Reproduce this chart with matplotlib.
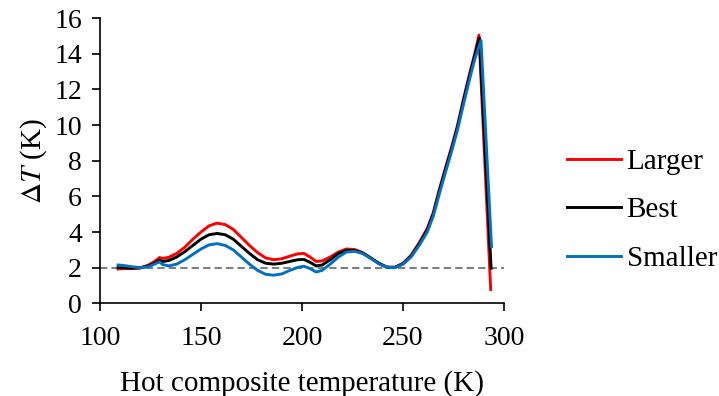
import numpy as np
import matplotlib.pyplot as plt

plt.rcParams['font.family'] = ['Liberation Serif', 'DejaVu Serif']
plt.rcParams['mathtext.fontset'] = 'stix'

# hot composite temperature (K) shared by the three cases
temp = [109, 112, 116, 120, 124, 127, 129.5, 131, 134, 138, 142, 146, 150,
        154, 158, 162, 166, 170, 174, 178, 182, 186, 190, 194, 198, 201,
        204, 207, 210, 214, 218, 222, 226, 230, 234, 238, 242, 246, 250,
        254, 258, 262, 265, 268, 271, 274, 277, 280, 283, 285.5]

dt_larger = [1.93, 1.95, 1.95, 1.98, 2.15, 2.35, 2.57, 2.52, 2.58, 2.8, 3.15,
             3.6, 4.0, 4.35, 4.5, 4.42, 4.15, 3.7, 3.25, 2.85, 2.55, 2.45,
             2.5, 2.65, 2.78, 2.8, 2.6, 2.35, 2.38, 2.6, 2.88, 3.05, 3.02,
             2.85, 2.55, 2.25, 2.03, 2.02, 2.25, 2.7, 3.4, 4.2, 5.1, 6.4,
             7.6, 8.75, 10.0, 11.5, 12.9, 14.0]
dt_best = [2.0, 2.0, 1.98, 2.0, 2.1, 2.25, 2.42, 2.35, 2.4, 2.6, 2.9, 3.25,
           3.6, 3.85, 3.92, 3.85, 3.6, 3.2, 2.8, 2.45, 2.25, 2.2, 2.25, 2.35,
           2.45, 2.46, 2.3, 2.1, 2.15, 2.45, 2.8, 2.97, 2.97, 2.82, 2.55,
           2.25, 2.03, 2.02, 2.22, 2.65, 3.33, 4.12, 5.02, 6.3, 7.5, 8.65,
           9.9, 11.4, 12.8, 13.9]
dt_smaller = [2.15, 2.12, 2.05, 2.0, 2.05, 2.2, 2.33, 2.18, 2.1, 2.2, 2.45,
              2.75, 3.05, 3.28, 3.35, 3.25, 3.0, 2.6, 2.2, 1.85, 1.63, 1.58,
              1.65, 1.85, 2.02, 2.08, 1.95, 1.76, 1.85, 2.2, 2.6, 2.88, 2.92,
              2.8, 2.52, 2.22, 2.02, 2.0, 2.2, 2.6, 3.25, 4.0, 4.9, 6.15,
              7.35, 8.5, 9.75, 11.2, 12.6, 13.7]

# peak and end of each curve
tail_t = {"Larger": [287.6, 293.4], "Best": [287.8, 293.6], "Smaller": [288.6, 293.8]}
tail_dt = {"Larger": [15.06, 0.78], "Best": [14.9, 1.97], "Smaller": [14.75, 3.18]}

min_dt = 2.0

colours = {"Larger": "#ff0000", "Best": "#000000", "Smaller": "#0070c0"}
series = [("Larger", dt_larger), ("Best", dt_best), ("Smaller", dt_smaller)]

fig = plt.figure(figsize=(7.19, 3.96), dpi=100)
ax = fig.add_axes([0.139, 0.234, 0.562, 0.72])

ax.axhline(min_dt, color="#808080", linestyle=(0, (3.5, 2.0)), linewidth=1.5, zorder=1)

for name, vals in series:
    ax.plot(temp + tail_t[name], vals + tail_dt[name],
            color=colours[name], linewidth=2.1, label=name, zorder=2)

ax.set_xlim(100, 300)
ax.set_ylim(0, 16)
ax.set_xticks(np.arange(100, 301, 50))
ax.set_yticks(np.arange(0, 17, 2))

for side in ["top", "right"]:
    ax.spines[side].set_visible(False)
for side in ["left", "bottom"]:
    ax.spines[side].set_linewidth(1.2)
ax.tick_params(direction="out", length=6, width=1.2, labelsize=20)
ax.tick_params(axis="x", pad=10)
ax.tick_params(axis="y", pad=7)

ax.set_xlabel("Hot composite temperature (K)", fontsize=21, labelpad=14)
ax.set_ylabel(r"$\Delta T$ (K)", fontsize=21, labelpad=4)

fig.legend(loc="center left", bbox_to_anchor=(0.768, 0.469), frameon=False,
           fontsize=21, handlelength=1.85, handletextpad=0.2,
           labelspacing=0.76, borderpad=0)

fig.savefig("out.png", dpi=100)
